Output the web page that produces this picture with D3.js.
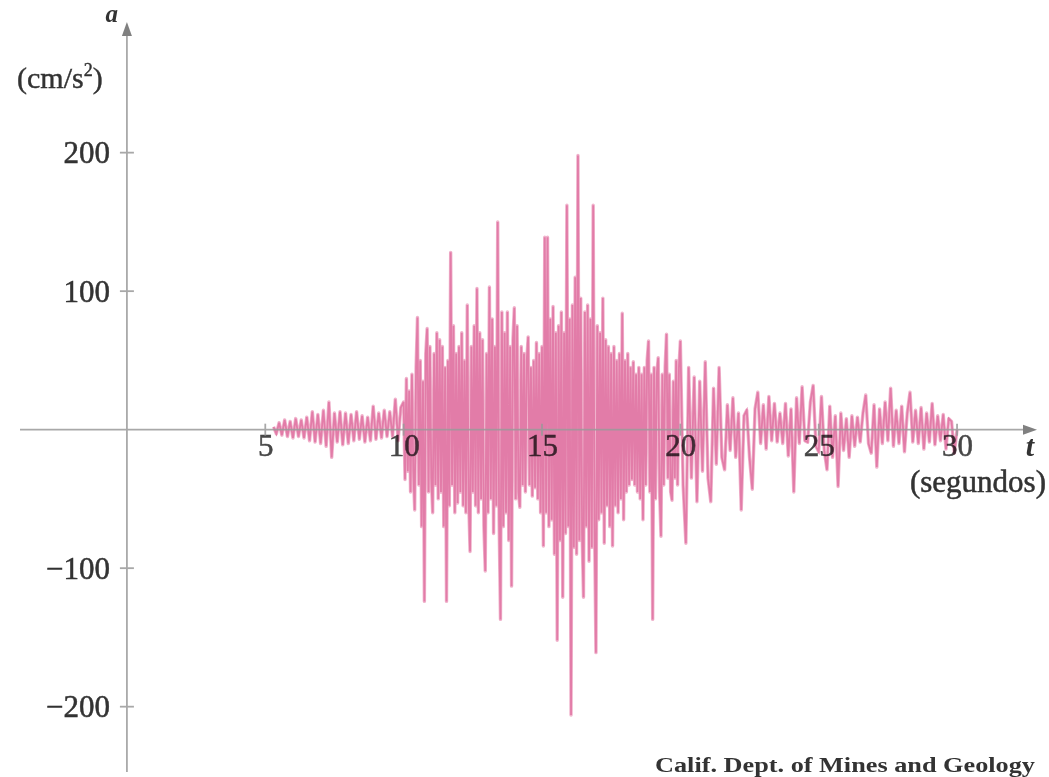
<!DOCTYPE html>
<html>
<head>
<meta charset="utf-8">
<script src="https://d3js.org/d3.v7.min.js"></script>
<style>
  body { margin: 0; background: #fff; }
  text { font-family: "Liberation Serif", "DejaVu Serif", serif; fill: #333; }
</style>
</head>
<body>
<div id="chart"></div>
<script>
// ground acceleration (cm/s^2), three stretches
// stretch 1: from 5.3 s, every 0.1 s
accelEarly = [2, -3, 5, -4, 7, -5, 6, -6, 8, -5, 7, -6, 9, -8, 13, -9, 11, -10, 14, -12,
  20, -20, 12, -9, 13, -11, 12, -10, 11, -8, 13, -7, 10, -9, 9, -8, 17, -7, 12, -6,
  14, -5, 13, -5, 22, -8, 16]
// stretch 2: from 10 s, every 0.05 s (strong motion)
accelStrong = [
  20, -36, 37, -30, 28, -45, 40, -30, -58, 45, 81, -40, 50, -70, 35, -124, 55, 73, -45, 60,
  -35, -60, 55, -40, 70, -50, 65, -45, 60, -70, 45, -124, 50, -55, 128, -40, 75, -60, 55, -53,
  60, -45, 70, -55, 50, -60, 90, -50, -88, 60, -45, 75, -55, 102, -60, 70, -50, 65, -70, -102,
  55, -60, 103, -50, 80, -75, 60, -55, 150, -65, -137, 85, -70, 70, -60, 85, -80, 60, -113, 65,
  88, -50, 75, -45, -56, 60, -40, 55, -45, 50, 67, -40, 45, -48, 50, -42, 63, -50, 55, -60,
  60, -84, 139, -60, 139, -70, 80, -65, 89, -90, 70, -152, 75, -80, 85, -121, 70, -75, 162, -70,
  80, -206, 90, -85, 110, -90, 198, -80, 95, -75, -121, 85, -70, 90, -95, 80, -85, 162, -70, -161,
  75, -65, 70, -60, 95, -82, 65, -55, 60, -70, 55, -84, 60, -55, 50, -60, 55, -50, 84, -65,
  50, -45, 55, -40, 45, -36, 49, -40, 40, -45, 45, -50, 40, -65, 45, -40, 50, 64, -45, 40,
  -137, 45, -50, 40, 52, -45, -77, 40, -40, 45, 69, -35, 40, -45, -51, 35, -35, 50, -40, 45]
// stretch 3: from 20 s, every 0.1 s
accelLate = [64, -40, -82, 45, -35, 38, -52, 35, -30, 49, -35, -52, 30, -25, 45, -20, -29, 18, -15, 23,
  -20, 12, -58, 10, 14, -20, -43, 15, 27, -10, 18, -14, 24, -8, 19, -9, 12, -10, 19, -19,
  15, -45, 23, -10, 31, -8, -9, 20, 32, -12, -16, 24, -15, -29, 17, -20, 10, -41, 12, -15,
  8, -20, 10, -12, 9, -9, 12, 25, -10, -17, 18, -27, 15, -10, 20, -8, 30, -12, 14, -10,
  17, -16, 12, 27, -9, 14, -10, 16, -14, 12, -9, 19, -11, 10, -8, 11, -14, 8, 6, -17, 0]

stretches = [
  { start: 5.3, step: 0.1, values: accelEarly },
  { start: 10, step: 0.05, values: accelStrong },
  { start: 20, step: 0.1, values: accelLate }
]

xTicks = [5, 10, 15, 20, 25, 30]
yTicks = [-200, -100, 100, 200]

width = 1049
height = 777

svg = d3.select('#chart')
  .append('svg')
  .attr('width', width)
  .attr('height', height)

xScale = d3.scaleLinear()
  .domain([-3.9, 32.6])
  .range([19, 1029])

yScale = d3.scaleLinear()
  .domain([-245, 290])
  .range([769, 28])

x0 = xScale(0)
y0 = yScale(0)
axisColor = '#9a9a9a'

// the record
points = []
stretches.forEach(s => {
  s.values.forEach((v, i) => points.push([s.start + i * s.step, v]))
})

line = d3.line()
  .x(d => xScale(d[0]))
  .y(d => yScale(d[1]))

// light halo then the main trace
svg.append('path')
  .datum(points)
  .attr('d', line)
  .attr('fill', 'none')
  .attr('stroke', '#f0b3cc')
  .attr('stroke-width', 3.4)
  .attr('stroke-linejoin', 'round')

svg.append('path')
  .datum(points)
  .attr('d', line)
  .attr('fill', 'none')
  .attr('stroke', '#e27ca8')
  .attr('stroke-width', 1.8)
  .attr('stroke-linejoin', 'miter')

// axes (labels drawn over the trace, multiplied so they show through)
xAxis = d3.axisBottom(xScale)
  .tickValues(xTicks)
  .tickSize(0)
  .tickPadding(4)

yAxis = d3.axisLeft(yScale)
  .tickValues(yTicks)
  .tickSize(0)
  .tickPadding(17)

gx = svg.append('g')
  .attr('transform', `translate(0 ${y0})`)
  .style('mix-blend-mode', 'multiply')
  .call(xAxis)
gy = svg.append('g')
  .attr('transform', `translate(${x0} 0)`)
  .call(yAxis)

;[gx, gy].forEach(g => {
  g.select('.domain').remove()
  g.selectAll('text')
    .attr('font-family', '"Liberation Serif", serif')
    .attr('font-size', 31)
    .attr('fill', '#2e2e2e')
    .attr('stroke', '#2e2e2e')
    .attr('stroke-width', 0.5)
})
gx.attr('opacity', 0.9)

axes = svg.append('g').attr('stroke', axisColor).attr('stroke-width', 1.8).attr('opacity', 0.85)
axes.append('line')
  .attr('x1', 20).attr('x2', 1026)
  .attr('y1', y0).attr('y2', y0)
axes.append('line')
  .attr('x1', x0).attr('x2', x0)
  .attr('y1', 32).attr('y2', 772)

axes.selectAll('line.xt')
  .data(xTicks)
  .join('line')
  .attr('class', 'xt')
  .attr('x1', d => xScale(d)).attr('x2', d => xScale(d))
  .attr('y1', y0 - 6).attr('y2', y0 + 6)

axes.selectAll('line.yt')
  .data(yTicks)
  .join('line')
  .attr('class', 'yt')
  .attr('x1', x0 - 7).attr('x2', x0 + 7)
  .attr('y1', d => yScale(d)).attr('y2', d => yScale(d))

// arrow heads
svg.append('path')
  .attr('d', `M${x0},${22} L${x0 - 5},${36} L${x0 + 5},${36} Z`)
  .attr('fill', '#808080')
svg.append('path')
  .attr('d', `M1037,${y0} L1023,${y0 - 5} L1023,${y0 + 5} Z`)
  .attr('fill', '#808080')

// axis titles
svg.append('text')
  .attr('x', 118).attr('y', 22)
  .attr('text-anchor', 'end')
  .attr('font-size', 25)
  .attr('font-style', 'italic')
  .attr('font-weight', 'bold')
  .attr('fill', '#333')
  .text('a')

unit = svg.append('text')
  .attr('x', 17).attr('y', 88)
  .attr('font-size', 30)
  .attr('fill', '#2e2e2e')
  .attr('stroke', '#2e2e2e')
  .attr('stroke-width', 0.4)
unit.append('tspan').text('(cm/s')
unit.append('tspan').attr('font-size', 18).attr('dy', -12).text('2')
unit.append('tspan').attr('dy', 12).text(')')

svg.append('text')
  .attr('x', 1030).attr('y', 456)
  .attr('text-anchor', 'middle')
  .attr('font-size', 30)
  .attr('font-style', 'italic')
  .attr('font-weight', 'bold')
  .attr('fill', '#333')
  .text('t')

svg.append('text')
  .attr('x', 1046).attr('y', 492)
  .attr('text-anchor', 'end')
  .attr('font-size', 31)
  .attr('fill', '#2e2e2e')
  .attr('stroke', '#2e2e2e')
  .attr('stroke-width', 0.5)
  .text('(segundos)')

svg.append('text')
  .attr('x', 655).attr('y', 772)
  .attr('font-size', 20)
  .attr('font-weight', 'bold')
  .attr('textLength', 380)
  .attr('lengthAdjust', 'spacingAndGlyphs')
  .attr('fill', '#333')
  .text('Calif. Dept. of Mines and Geology')
</script>
</body>
</html>
